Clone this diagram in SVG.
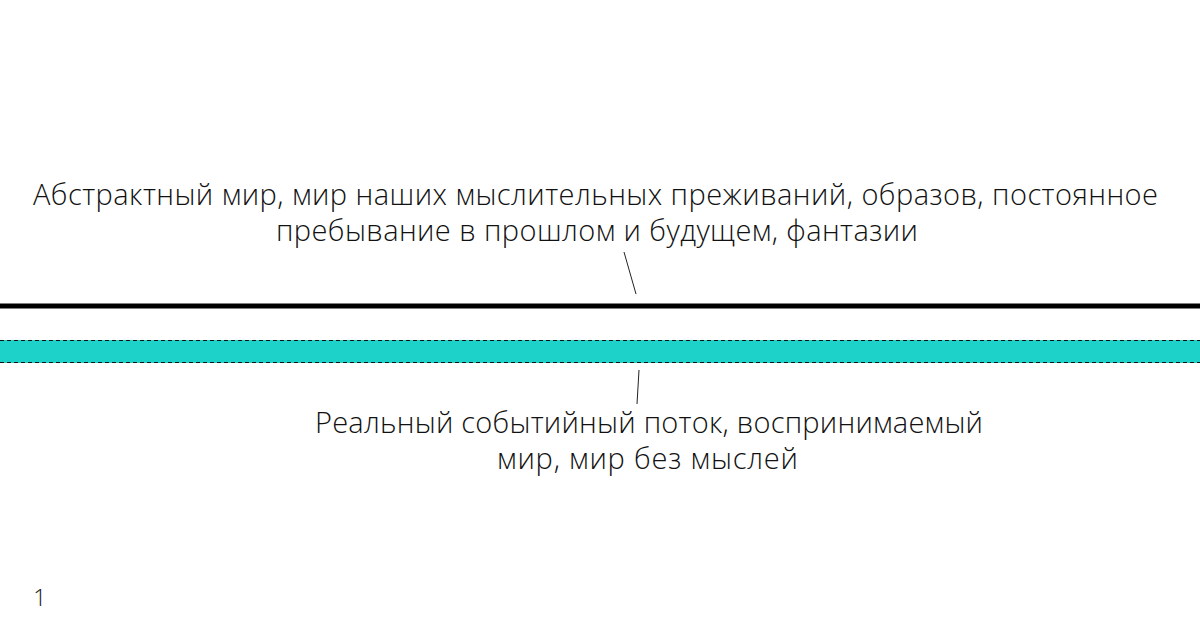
<svg xmlns="http://www.w3.org/2000/svg" width="1200" height="628" viewBox="0 0 1200 628">
<style>
.t{font-family:"Open Sans","Liberation Sans",sans-serif;font-weight:300;font-size:29px;fill:#111;text-anchor:middle}
.n{font-family:"Open Sans","Liberation Sans",sans-serif;font-weight:300;font-size:24px;fill:#222}
.dash{stroke:#111;stroke-width:1;stroke-dasharray:4 3;fill:none}
.lead{stroke:#222;stroke-width:1;fill:none}
</style>
<rect width="1200" height="628" fill="#fff"/>
<g id="abstract-line">
<rect x="0" y="303.5" width="1200" height="5" fill="#000"/>
</g>
<g id="real-band">
<rect x="0" y="340" width="1200" height="23" fill="#1cd2c9"/>
<line class="dash" x1="0" y1="340.5" x2="1200" y2="340.5"/>
<line class="dash" x1="0" y1="362.5" x2="1200" y2="362.5"/>
</g>
<g id="connectors">
<line class="lead" x1="624" y1="252" x2="636" y2="294"/>
<line class="lead" x1="639" y1="370" x2="637" y2="404"/>
</g>
<g id="abstract-label">
<text class="t" x="595.5" y="205" textLength="1125">Абстрактный мир, мир наших мыслительных преживаний, образов, постоянное</text>
<text class="t" x="597" y="241" textLength="642">пребывание в прошлом и будущем, фантазии</text>
</g>
<g id="real-label">
<text class="t" x="649" y="433" textLength="668">Реальный событийный поток, воспринимаемый</text>
<text class="t" x="647.5" y="469" textLength="301">мир, мир без мыслей</text>
</g>
<g id="page-number">
<text class="n" x="33" y="606">1</text>
</g>
</svg>
